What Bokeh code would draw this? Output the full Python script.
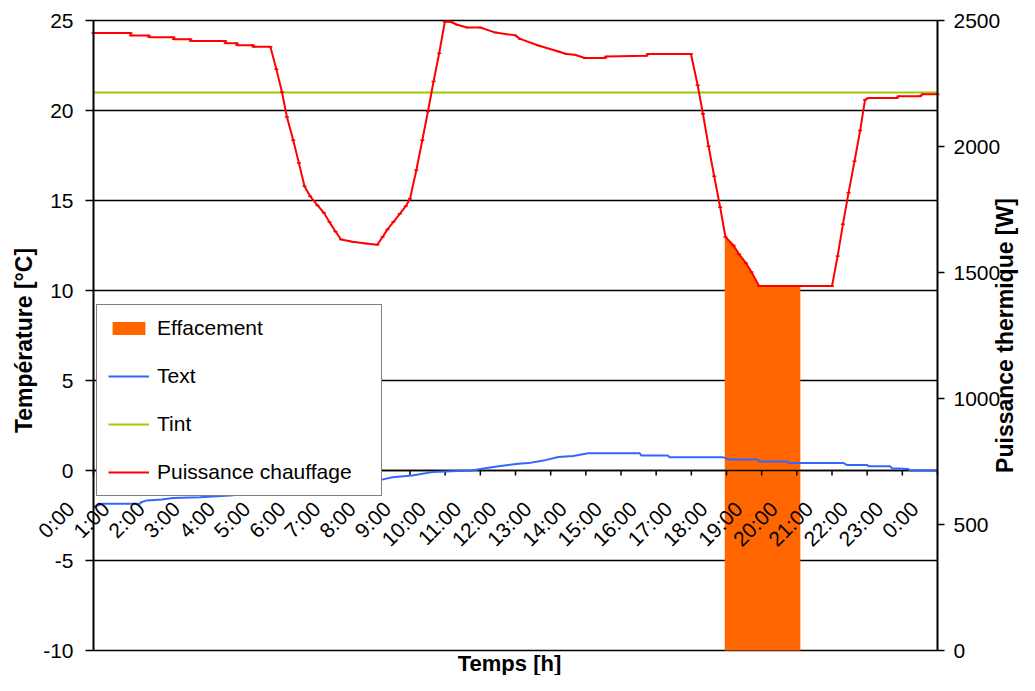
import math
from bokeh.plotting import figure
from bokeh.models import (Range1d, LinearAxis, FixedTicker, ColumnDataSource,
                          LabelSet, Legend, LegendItem)
from bokeh.embed import file_html
from bokeh.resources import INLINE
from bokeh.core.properties import value

# ---------------- data ----------------
hour_labels = ["0:00", "1:00", "2:00", "3:00", "4:00", "5:00", "6:00", "7:00",
               "8:00", "9:00", "10:00", "11:00", "12:00", "13:00", "14:00",
               "15:00", "16:00", "17:00", "18:00", "19:00", "20:00", "21:00",
               "22:00", "23:00", "0:00"]
hour_pos = [0, 1, 2, 3, 4, 5, 6, 7, 8, 9, 10, 11, 12, 13, 14, 15, 16, 17, 18,
            19, 20, 21, 22, 23, 24]
tick_pos = [1, 2, 3, 4, 5, 6, 7, 8, 9, 10, 11, 12, 13, 14, 15, 16, 17, 18, 19,
            20, 21, 22, 23, 24, 25]

# Puissance chauffage [W] (secondary axis)
power_t = [1.00, 2.05, 2.07, 2.57, 2.59, 3.27, 3.29, 3.75, 3.77, 4.74, 4.76,
           5.07, 5.09, 5.53, 5.55, 6.03, 6.20, 6.36, 6.50, 6.68, 6.84, 7.00,
           7.16, 7.37, 7.55, 7.71, 7.88, 8.04, 8.37, 8.75, 9.07, 9.22, 9.36,
           9.53, 9.71, 9.88, 10.00, 10.18, 10.35, 10.51, 10.67, 10.83, 10.99,
           11.15, 11.34, 11.62, 12.00, 12.43, 12.99, 13.13, 13.65, 14.22,
           14.45, 14.69, 14.97, 15.54, 15.58, 16.72, 16.76, 17.99, 18.18,
           18.33, 18.49, 18.65, 18.82, 18.97, 19.20, 19.36, 19.55, 19.71,
           19.93, 22.00, 22.16, 22.31, 22.47, 22.64, 22.80, 22.94, 23.04,
           23.84, 23.89, 24.50, 24.58, 25.00]
power_w = [2450, 2450, 2440, 2440, 2434, 2434, 2426, 2426, 2419, 2419, 2410,
           2410, 2402, 2402, 2396, 2396, 2307, 2215, 2117, 2025, 1935, 1842,
           1803, 1766, 1737, 1700, 1663, 1631, 1622, 1615, 1610, 1641, 1671,
           1701, 1733, 1763, 1793, 1906, 2025, 2139, 2258, 2370, 2495,
           2495, 2483, 2472, 2472, 2452, 2441, 2427, 2401, 2377,
           2367, 2364, 2351, 2351, 2357, 2360, 2367, 2367, 2243,
           2130, 2001, 1882, 1759, 1641, 1607, 1572, 1538, 1502,
           1446, 1446, 1565, 1691, 1816, 1941, 2063, 2186, 2192,
           2192, 2199, 2199, 2207, 2207]

# Effacement (area, secondary axis)
eff_t = [18.95, 19.20, 19.36, 19.55, 19.71, 19.93, 21.10]
eff_w = [1644, 1607, 1572, 1538, 1502, 1446, 1446]

# Text (outdoor temperature, degC)
text_t = [1.00, 1.25, 2.33, 2.35, 2.52, 2.94, 3.27, 4.03, 4.88, 6.00, 7.00,
          8.00, 9.00, 9.17, 9.50, 10.06, 10.63, 11.76, 12.14, 12.52, 13.08,
          13.37, 13.79, 14.22, 14.64, 15.07, 16.53, 16.58, 17.33, 17.38,
          18.89, 19.08, 19.88, 19.93, 20.73, 20.77, 22.33, 22.42, 22.99,
          23.04, 23.65, 23.70, 24.17, 24.21, 24.92, 25.00]
text_c = [-2.03, -1.85, -1.85, -1.76, -1.66, -1.61, -1.53, -1.48, -1.39,
          -1.20, -1.05, -0.85, -0.65, -0.52, -0.37, -0.28, -0.09, 0.00, 0.13,
          0.24, 0.37, 0.41, 0.55, 0.75, 0.80, 0.96, 0.96, 0.83, 0.83, 0.74,
          0.74, 0.61, 0.61, 0.50, 0.50, 0.41, 0.41, 0.31, 0.31, 0.24, 0.24,
          0.13, 0.09, 0.00, 0.00, -0.09]

# Tint (indoor temperature, degC)
tint_t = [1.0, 25.0]
tint_c = [21.0, 21.0]

left_ticks = [-10, -5, 0, 5, 10, 15, 20, 25]
grid_levels = [-10, -5, 0, 5, 10, 15, 20, 25]
right_ticks = [0, 500, 1000, 1500, 2000, 2500]

x_title = "Temps [h]"
y_title = "Température [°C]"
y2_title = "Puissance thermique [W]"

# ---------------- geometry (canvas px) ----------------
FONT = "Liberation Sans"
W, H = 1019, 675
PX_L, PX_R = 93.0, 937.0        # x = 1 h  and x = 25 h
PY_T, PY_B = 20.0, 650.0        # y = 25 C and y = -10 C
kx = (PX_R - PX_L) / 24.0
ky = (PY_B - PY_T) / 35.0
kp = (PY_B - PY_T) / 2500.0
x_lo = 1 - PX_L / kx
x_hi = 25 + (W - PX_R) / kx
y_hi = 25 + PY_T / ky
y_lo = -10 - (H - PY_B) / ky
p_hi = 2500 + PY_T / kp
p_lo = -(H - PY_B) / kp


def sx(px):
    return 1 + (px - PX_L) / kx


def sy(py):
    return 25 - (py - PY_T) / ky


p = figure(width=W, height=H, x_range=Range1d(x_lo, x_hi),
           y_range=Range1d(y_lo, y_hi), output_backend="svg",
           toolbar_location=None, x_axis_location=None, y_axis_location=None,
           min_border=0)
p.extra_y_ranges = {"power": Range1d(p_lo, p_hi)}
p.outline_line_color = None
p.background_fill_color = "white"
p.border_fill_color = "white"
p.xgrid.visible = False
p.ygrid.visible = False

# horizontal grid / frame lines (under the area)
p.segment(x0=[1] * len(grid_levels), y0=grid_levels,
          x1=[25] * len(grid_levels), y1=grid_levels,
          line_color="black", line_width=1.5)

# ---------------- glyphs ----------------
r_eff = p.varea(x=eff_t, y1=0, y2=eff_w, y_range_name="power",
                fill_color="#FF6600", fill_alpha=1.0)

# category axis at y = 0
p.segment(x0=[1], y0=[0], x1=[25], y1=[0], line_color="black", line_width=1.5)
p.segment(x0=tick_pos, y0=[0] * len(tick_pos), x1=tick_pos,
          y1=[-5 / ky] * len(tick_pos), line_color="black", line_width=1.5)

r_text = p.line(text_t, text_c, line_color="#3366FF", line_width=2)
r_tint = p.line(tint_t, tint_c, line_color="#99CC00", line_width=2)
r_pow = p.line(power_t, power_w, y_range_name="power", line_color="#FF0000",
               line_width=2)
p.scatter(power_t, power_w, y_range_name="power", marker="dash", size=4,
          line_color="#FF0000", line_width=1.5)

lab_src = ColumnDataSource(data=dict(
    x=[h + 0.5 for h in hour_pos],
    y=[-40 / ky] * len(hour_pos),
    text=hour_labels))
p.add_layout(LabelSet(x="x", y="y", text="text", source=lab_src,
                      angle=math.pi / 4, text_align="right",
                      text_baseline="alphabetic",
                      text_font=value(FONT), text_font_size="21px",
                      text_color="black"))

# ---------------- axes ----------------
ly = LinearAxis(fixed_location=1, ticker=FixedTicker(ticks=left_ticks),
                bounds=(-10, 25),
                major_label_overrides={-10: "-10", -5: "-5"})
ry = LinearAxis(y_range_name="power", fixed_location=25,
                ticker=FixedTicker(ticks=right_ticks), bounds=(0, 2500))
p.add_layout(ly, "left")
p.add_layout(ry, "right")
for ax, so, tout in ((ly, 12, 8), (ry, 9, 7)):
    ax.axis_line_color = "black"
    ax.axis_line_width = 2
    ax.major_tick_in = 0
    ax.major_tick_out = tout
    ax.major_tick_line_width = 1.5
    ax.minor_tick_line_color = None
    ax.major_label_text_font = FONT
    ax.major_label_text_font_size = "21px"
    ax.major_label_text_color = "black"
    ax.major_label_standoff = so

# axis titles (anchor sits ~0.32 em above the drawn baseline)
p.text(x=[sx(23)], y=[sy(340)], text=[y_title], angle=math.pi / 2,
       text_align="center", text_baseline="alphabetic", text_font=value(FONT),
       text_font_size="23px", text_font_style="bold", text_color="black")
p.text(x=[sx(1004.5)], y=[sy(335)], text=[y2_title], angle=math.pi / 2,
       text_align="center", text_baseline="alphabetic", text_font=value(FONT),
       text_font_size="23px", text_font_style="bold", text_color="black")
p.text(x=[sx(509)], y=[sy(662.5)], text=[x_title], text_align="center",
       text_baseline="alphabetic", text_font=value(FONT),
       text_font_size="22px", text_font_style="bold", text_color="black")

legend = Legend(items=[LegendItem(label="Effacement", renderers=[r_eff]),
                       LegendItem(label="Text", renderers=[r_text]),
                       LegendItem(label="Tint", renderers=[r_tint]),
                       LegendItem(label="Puissance chauffage", renderers=[r_pow])],
                location=(96, H - 496), border_line_color="black",
                border_line_width=1, background_fill_color="white",
                background_fill_alpha=1.0, label_text_font=FONT,
                label_text_font_size="21px", label_text_color="black",
                glyph_width=41, glyph_height=16, label_standoff=8,
                label_height=24, label_width=213, spacing=24, padding=11,
                margin=0)
p.add_layout(legend)

open("out.html", "w").write(file_html(p, INLINE))
